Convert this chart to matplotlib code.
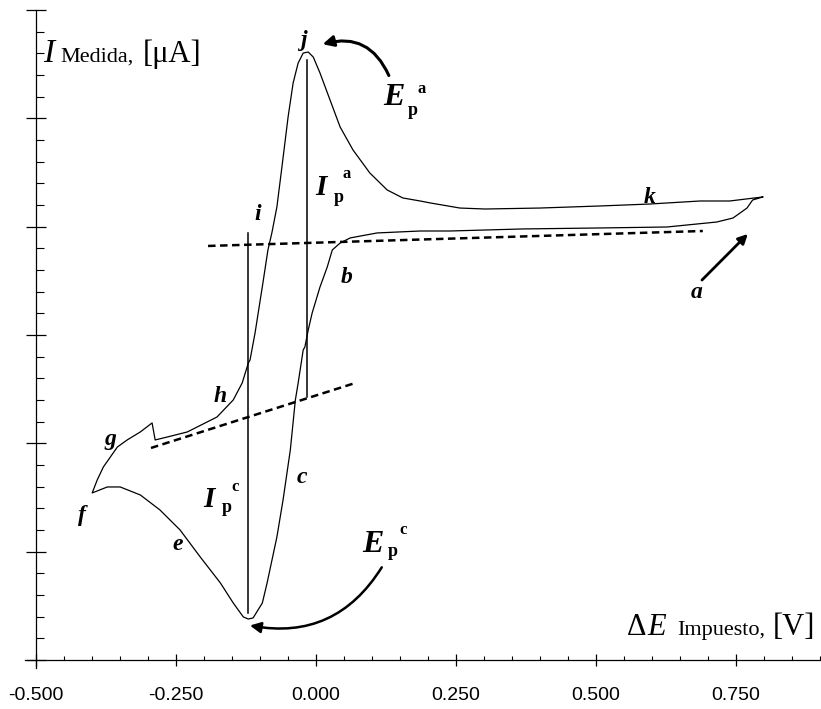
import matplotlib.pyplot as plt
from matplotlib.patches import FancyArrowPatch
from matplotlib.ticker import MultipleLocator, FormatStrFormatter

# voltammogram (E in V, I in arbitrary units)
E_scan = [0.798, 0.780, 0.770, 0.745, 0.716, 0.627, 0.507, 0.370, 0.239, 0.186,
          0.109, 0.061, 0.043, 0.029, 0.020, 0.007, -0.007, -0.014, -0.020, -0.023,
          -0.032, -0.037, -0.046, -0.059, -0.070, -0.0875, -0.096, -0.1125, -0.121, -0.130,
          -0.148, -0.171, -0.207, -0.243, -0.279, -0.314, -0.350, -0.373, -0.400, -0.391,
          -0.380, -0.355, -0.3375, -0.314, -0.293, -0.2875, -0.266, -0.230, -0.177, -0.148,
          -0.132, -0.121, -0.118, -0.109, -0.095, -0.086, -0.079, -0.070, -0.061, -0.050,
          -0.041, -0.032, -0.023, -0.014, -0.005, 0.007, 0.025, 0.043, 0.066, 0.096,
          0.127, 0.155, 0.186, 0.204, 0.257, 0.302, 0.400, 0.507, 0.596, 0.686,
          0.739, 0.798]
I_scan = [4.274, 4.246, 4.172, 4.080, 4.043, 3.997, 3.988, 3.979, 3.960, 3.960,
          3.942, 3.896, 3.849, 3.785, 3.628, 3.443, 3.203, 3.046, 2.889, 2.862,
          2.557, 2.400, 1.939, 1.477, 1.135, 0.711, 0.526, 0.388, 0.378, 0.397,
          0.526, 0.711, 0.951, 1.200, 1.385, 1.523, 1.597, 1.597, 1.542, 1.662,
          1.782, 1.966, 2.031, 2.105, 2.188, 2.031, 2.058, 2.105, 2.243, 2.400,
          2.557, 2.742, 2.769, 3.019, 3.480, 3.785, 3.942, 4.182, 4.551, 5.012,
          5.326, 5.511, 5.603, 5.612, 5.566, 5.419, 5.169, 4.920, 4.708, 4.496,
          4.339, 4.265, 4.237, 4.219, 4.172, 4.163, 4.172, 4.191, 4.209, 4.237,
          4.237, 4.274]

# baselines (dashed) and peak currents (vertical)
base_a_E = [-0.193, 0.691]
base_a_I = [3.822, 3.960]
base_c_E = [-0.295, 0.070]
base_c_I = [1.957, 2.557]
Ipa_E, Ipa_I = -0.016, [5.54, 2.43]
Ipc_E, Ipc_I = -0.121, [3.94, 0.43]

xticks = [-0.5, -0.25, 0.0, 0.25, 0.5, 0.75]

point_labels = ['a', 'b', 'c', 'e', 'f', 'g', 'h', 'i', 'j', 'k']
point_E = [0.680, 0.055, -0.025, -0.248, -0.418, -0.368, -0.171, -0.104, -0.023, 0.596]
point_I = [3.388, 3.535, 1.680, 1.062, 1.338, 2.031, 2.428, 4.108, 5.723, 4.265]

serif = 'Liberation Serif'

fig = plt.figure(figsize=(8.21, 7.09), dpi=100)
ax = fig.add_axes([0.0305, 0.0539, 0.968, 0.9396])
ax.set_xlim(-0.52, 0.9)
ax.set_ylim(-0.1, 6.05)

ax.plot(E_scan, I_scan, color='black', lw=0.9, solid_joinstyle='round')
ax.plot(base_a_E, base_a_I, color='black', lw=1.8, ls=(0, (3, 1.8)))
ax.plot(base_c_E, base_c_I, color='black', lw=1.8, ls=(0, (3, 1.8)))
ax.plot([Ipa_E, Ipa_E], Ipa_I, color='black', lw=1.1)
ax.plot([Ipc_E, Ipc_E], Ipc_I, color='black', lw=1.1)

# axes through the data frame
for s in ['top', 'right']:
    ax.spines[s].set_visible(False)
ax.spines['left'].set_position(('data', -0.5))
ax.spines['bottom'].set_position(('data', 0.0))
ax.spines['left'].set_bounds(-0.07, 6.0)
ax.spines['bottom'].set_bounds(-0.52, 0.9)
ax.spines['left'].set_linewidth(0.9)
ax.spines['bottom'].set_linewidth(0.9)

ax.set_xticks(xticks)
ax.xaxis.set_minor_locator(MultipleLocator(0.05))
ax.xaxis.set_major_formatter(FormatStrFormatter('%.3f'))
ax.yaxis.set_major_locator(MultipleLocator(1.0))
ax.yaxis.set_minor_locator(MultipleLocator(0.2))
ax.set_yticklabels([])
ax.tick_params(axis='x', which='major', direction='inout', length=9, width=0.9,
               pad=15, labelsize=14)
ax.tick_params(axis='x', which='minor', direction='in', length=3, width=0.8)
ax.tick_params(axis='y', which='major', direction='inout', length=15, width=0.9)
ax.tick_params(axis='y', which='minor', direction='in', length=5.5, width=0.8)
for lab in ax.get_xticklabels():
    lab.set_fontfamily('Liberation Sans')

# axis titles
ax.text(-0.4875, 5.52, 'I', family=serif, style='italic', fontsize=24, va='baseline')
ax.text(-0.457, 5.52, 'Medida,', family=serif, fontsize=16, va='baseline')
ax.text(-0.309, 5.52, '[\u03bcA]', family=serif, fontsize=22, va='baseline')
ax.text(0.555, 0.231, '\u0394', family=serif, fontsize=22, va='baseline')
ax.text(0.592, 0.231, 'E', family=serif, style='italic', fontsize=22, va='baseline')
ax.text(0.645, 0.231, 'Impuesto,', family=serif, fontsize=16, va='baseline')
ax.text(0.816, 0.231, '[V]', family=serif, fontsize=22, va='baseline')

for lab, e, i in zip(point_labels, point_E, point_I):
    ax.text(e, i, lab, family=serif, style='italic', weight='bold', fontsize=17,
            ha='center', va='center')

# peak symbols
def peak_label(e, i, big, sup, big_size):
    x0, y0 = e
    ax.text(x0, y0, big, family=serif, style='italic', weight='bold',
            fontsize=big_size, ha='center', va='center')
    ax.text(i[0][0], i[0][1], 'p', family=serif, weight='bold', fontsize=13,
            ha='center', va='center')
    ax.text(i[1][0], i[1][1], sup, family=serif, weight='bold', fontsize=12,
            ha='center', va='center')

peak_label((0.009, 4.357), [(0.041, 4.265), (0.055, 4.486)], 'I', 'a', 21)
peak_label((-0.191, 1.477), [(-0.159, 1.403), (-0.145, 1.597)], 'I', 'c', 21)
peak_label((0.139, 5.188), [(0.173, 5.077), (0.189, 5.271)], 'E', 'a', 23)
peak_label((0.102, 1.062), [(0.1375, 0.997), (0.155, 1.200)], 'E', 'c', 23)

# arrows
ax.add_patch(FancyArrowPatch((0.132, 5.372), (0.007, 5.677),
                             connectionstyle='arc3,rad=0.45', arrowstyle='-|>',
                             mutation_scale=16, lw=2.2, color='black'))
ax.add_patch(FancyArrowPatch((0.120, 0.877), (-0.123, 0.323),
                             connectionstyle='arc3,rad=-0.35', arrowstyle='-|>',
                             mutation_scale=16, lw=1.8, color='black'))
ax.add_patch(FancyArrowPatch((0.686, 3.489), (0.775, 3.951),
                             arrowstyle='-|>', mutation_scale=14, lw=2.0,
                             color='black'))

fig.savefig('out.png', dpi=100)
